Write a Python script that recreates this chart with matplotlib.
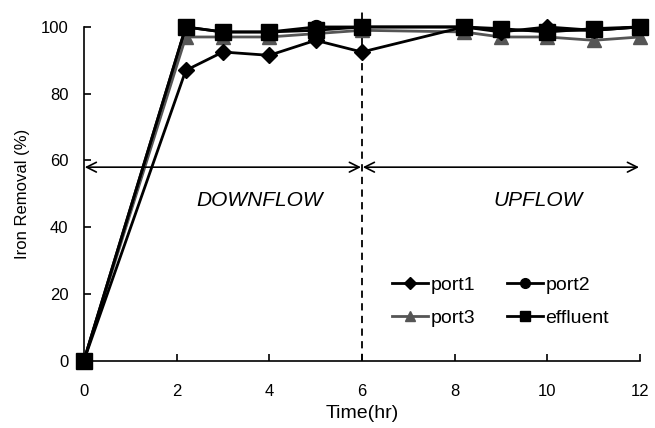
"""Iron removal over time for each sampling port, downflow vs upflow."""
import matplotlib
matplotlib.use("Agg")
import matplotlib.pyplot as plt

plt.rcParams["font.family"] = ["Liberation Sans", "DejaVu Sans"]

time_hr = [0, 2.2, 3, 4, 5, 6, 8.2, 9, 10, 11, 12]
port1 = [0, 87, 92.5, 91.5, 96, 92.5, 100, 98.5, 100, 99, 100]
port2 = [0, 100, 98.5, 98.5, 100, 100, 100, 99, 99, 99, 100]
port3 = [0, 97, 97, 97, 98, 99, 98.5, 97, 97, 96, 97]
effluent = [0, 100, 98.5, 98.5, 99, 100, 100, 99.5, 98.5, 99.5, 100]

SWITCH_HR = 6
ARROW_Y = 58
PHASES = ["DOWNFLOW", "UPFLOW"]
PHASE_X = [3.8, 9.8]


def main() -> None:
    fig = plt.figure(figsize=(6.55, 4.28), dpi=100)
    ax = fig.add_axes([0.128, 0.157, 0.849, 0.78])

    style = dict(linewidth=2, clip_on=False)
    ax.plot(time_hr, port3, color="#555555", marker="^", markersize=10, label="port3", zorder=3, **style)
    ax.plot(time_hr, port2, color="black", marker="o", markersize=10, label="port2", zorder=4, **style)
    ax.plot(time_hr, port1, color="black", marker="D", markersize=8.5, label="port1", zorder=5, **style)
    ax.plot(time_hr, effluent, color="black", marker="s", markersize=11, label="effluent", zorder=6, **style)

    ax.plot([SWITCH_HR, SWITCH_HR], [0, 105], color="black", linestyle=(0, (4, 3)),
            linewidth=1.3, clip_on=False, zorder=2)

    for x0, x1 in [(0, SWITCH_HR), (SWITCH_HR, 12)]:
        ax.annotate("", xy=(x0 + 0.02, ARROW_Y), xytext=(x1 - 0.02, ARROW_Y),
                    arrowprops=dict(arrowstyle="<->,head_length=0.7,head_width=0.35",
                                    color="black", linewidth=1.2, shrinkA=0, shrinkB=0))
    for name, x in zip(PHASES, PHASE_X):
        ax.text(x, 48, name, style="italic", fontsize=15, ha="center", va="center")

    ax.set_xlim(0, 12)
    ax.set_ylim(0, 100)
    ax.set_xticks(range(0, 13, 2))
    ax.set_yticks(range(0, 101, 20))
    ax.tick_params(direction="in", labelsize=12, length=5, width=1.2)
    ax.tick_params(axis="x", pad=17)
    ax.tick_params(axis="y", pad=11)
    for side in ("top", "right"):
        ax.spines[side].set_visible(False)
    for side in ("left", "bottom"):
        ax.spines[side].set_linewidth(1.2)

    ax.set_xlabel("Time(hr)", fontsize=14, labelpad=4)
    ax.set_ylabel("Iron Removal (%)", fontsize=12, labelpad=8)

    handles, labels = ax.get_legend_handles_labels()
    # two columns, filled column by column: port1/port3 then port2/effluent
    order = [labels.index(n) for n in ["port1", "port3", "port2", "effluent"]]
    ax.legend([handles[i] for i in order], [labels[i] for i in order], ncol=2,
              loc="upper left", bbox_to_anchor=(0.554, 0.253), frameon=False, fontsize=14,
              markerscale=0.7, handlelength=1.85, handletextpad=0.15,
              columnspacing=1.6, labelspacing=0.8, borderpad=0, borderaxespad=0)

    fig.savefig("out.png", dpi=100)


if __name__ == "__main__":
    main()
